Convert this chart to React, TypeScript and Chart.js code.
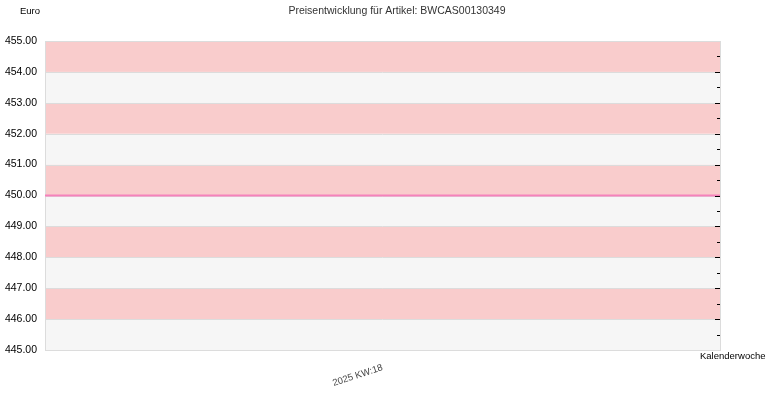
import React, { useEffect, useRef } from "react";
import { Chart, registerables } from "chart.js";

Chart.register(...registerables);

const weeks = ["2025 KW:18"];
const prices = [450];
const yMin = 445;
const yMax = 455;
const title = "Preisentwicklung für Artikel: BWCAS00130349";
const yUnit = "Euro";
const xName = "Kalenderwoche";

const FONT = "'Liberation Sans', Arial, sans-serif";

const decorPlugin = {
  id: "decor",
  beforeDatasetsDraw(chart: any) {
    const { ctx, chartArea: a, scales } = chart;
    const y = scales.y;
    ctx.save();
    for (let v = yMin; v < yMax; v++) {
      const top = y.getPixelForValue(v + 1);
      const bot = y.getPixelForValue(v);
      ctx.fillStyle = (v - yMin) % 2 === 1 ? "#f9cccc" : "#f6f6f6";
      ctx.fillRect(a.left, top, a.right - a.left, bot - top);
    }
    ctx.strokeStyle = "#dcdcdc";
    ctx.lineWidth = 1;
    for (let v = yMin; v <= yMax; v++) {
      const py = Math.round(y.getPixelForValue(v)) + 0.5;
      ctx.beginPath();
      ctx.moveTo(a.left, py);
      ctx.lineTo(a.right, py);
      ctx.stroke();
    }
    ctx.strokeRect(Math.round(a.left) + 0.5, Math.round(a.top) + 0.5, Math.round(a.right - a.left), Math.round(a.bottom - a.top));
    ctx.restore();
  },
  afterDatasetsDraw(chart: any) {
    const { ctx, chartArea: a, scales } = chart;
    const y = scales.y;
    ctx.save();
    ctx.strokeStyle = "#000";
    ctx.lineWidth = 1;
    for (let v = yMin + 0.5; v < yMax; v += 0.5) {
      const py = Math.round(y.getPixelForValue(v)) + 0.5;
      const len = Number.isInteger(v) ? 5 : 3;
      ctx.beginPath();
      ctx.moveTo(a.right - len, py);
      ctx.lineTo(a.right, py);
      ctx.stroke();
    }
    ctx.restore();
  },
  afterDraw(chart: any) {
    const { ctx, chartArea: a } = chart;
    ctx.save();
    ctx.fillStyle = "#333";
    ctx.font = `10.5px ${FONT}`;
    ctx.textBaseline = "middle";
    ctx.textAlign = "center";
    ctx.fillText(title, 397, 11);
    ctx.fillStyle = "#000";
    ctx.font = `9.5px ${FONT}`;
    ctx.textAlign = "left";
    ctx.fillText(yUnit, 20, 11);
    ctx.fillText(xName, a.right - 20, a.bottom + 6);
    ctx.restore();
  },
};

export default function App() {
  const ref = useRef<HTMLCanvasElement>(null);
  useEffect(() => {
    document.body.style.margin = "0";
    const data = prices.flatMap((p, i) => [
      { x: i - 0.5, y: p },
      { x: i + 0.5, y: p },
    ]);
    const chart = new Chart(ref.current!, {
      type: "line",
      data: {
        datasets: [
          {
            data,
            borderColor: "#f582bb",
            borderWidth: 2,
            pointRadius: 0,
            fill: false,
          },
        ],
      },
      plugins: [decorPlugin],
      options: {
        animation: false,
        responsive: false,
        layout: { padding: { left: 0, right: 50, top: 41, bottom: 0 } },
        plugins: { legend: { display: false }, tooltip: { enabled: false }, title: { display: false } },
        scales: {
          x: {
            type: "linear",
            min: -0.5,
            max: weeks.length - 0.5,
            grid: { display: false, drawTicks: false },
            border: { display: false },
            afterBuildTicks: (s: any) => {
              s.ticks = weeks.map((_, i) => ({ value: i }));
            },
            afterFit: (s: any) => {
              s.height = 50;
            },
            ticks: {
              minRotation: 18,
              maxRotation: 18,
              autoSkip: false,
              padding: 12,
              color: "#444",
              font: { family: FONT, size: 9.5 },
              callback: (v: any) => weeks[Math.round(Number(v))] ?? "",
            },
          },
          y: {
            min: yMin,
            max: yMax,
            grid: { display: false, drawTicks: false },
            border: { display: false },
            afterFit: (s: any) => {
              s.width = 45;
            },
            ticks: {
              stepSize: 1,
              padding: 8,
              color: "#000",
              font: { family: FONT, size: 10.5 },
              callback: (v: any) => Number(v).toFixed(2),
            },
          },
        },
      },
    });
    return () => chart.destroy();
  }, []);
  return <canvas ref={ref} width={770} height={400} style={{ display: "block" }} />;
}
